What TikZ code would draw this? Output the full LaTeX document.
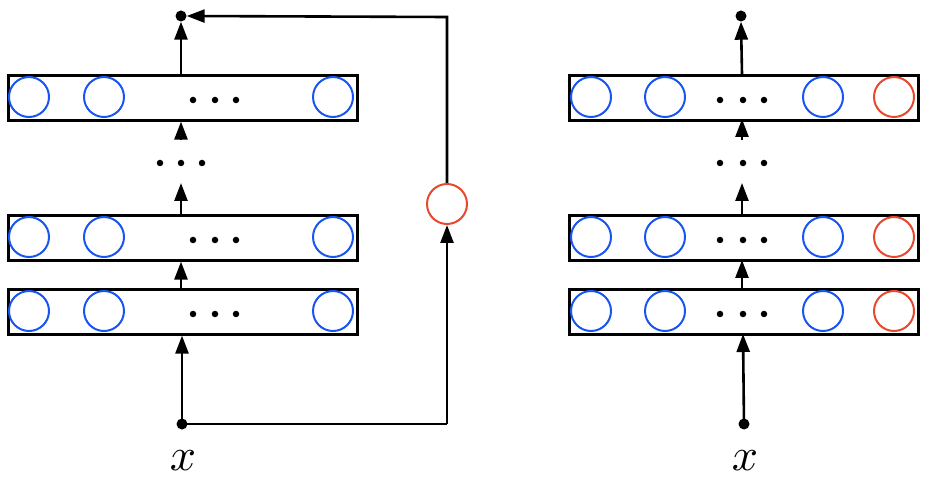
\documentclass[tikz,border=0pt]{standalone}
\usepackage{graphicx}
\usetikzlibrary{arrows.meta}
\definecolor{nblue}{RGB}{25,85,240}
\definecolor{nred}{RGB}{232,72,45}
\begin{document}
\begin{tikzpicture}[x=1pt,y=-1pt,
  layerbox/.style={draw=black,line width=2.6pt,minimum width=349pt,minimum height=45pt,inner sep=0pt,anchor=north west},
  unit/.style={circle,draw=nblue,line width=2pt,minimum size=40pt,inner sep=0pt},
  redunit/.style={circle,draw=nred,line width=2pt,minimum size=40pt,inner sep=0pt},
  smalldot/.style={circle,fill=black,minimum size=6.5pt,inner sep=0pt},
  enddot/.style={circle,fill=black,minimum size=11pt,inner sep=0pt},
  conn/.style={line width=2.6pt,-{Triangle[length=18pt,width=13pt]}},
  plain/.style={line width=2.6pt},
  lbl/.style={inner sep=0pt}
]
\useasboundingbox (0,0) rectangle (929,478);

% ---------- left panel ----------
\node[layerbox] (L3) at (7,74) {};
\node[layerbox] (L2) at (7,214) {};
\node[layerbox] (L1) at (7,288) {};
\foreach \b/\y in {L3/97,L2/237,L1/311}{
  \node[unit] (\b a) at (29,\y) {};
  \node[unit] (\b b) at (104,\y) {};
  \node[unit] (\b c) at (333,\y) {};
  \node[smalldot] (\b d1) at (193,\y+3) {};
  \node[smalldot] (\b d2) at (215,\y+3) {};
  \node[smalldot] (\b d3) at (236,\y+3) {};
}
\node[smalldot] (Lm1) at (160,163) {};
\node[smalldot] (Lm2) at (181,163) {};
\node[smalldot] (Lm3) at (202,163) {};
\coordinate (Lmtop) at (181,140);
\coordinate (Lmbot) at (181,183);
\node[enddot] (Ltop) at (181,16) {};
\node[enddot] (Lx) at (182,424) {};
\node[lbl] (Lxl) at (183,461) {\scalebox{4.6}{$x$}};
\node[redunit] (R) at (447,204) {};
\coordinate (c1) at (447,424);
\coordinate (c2) at (447,17);

\draw[conn] (Lx.center) -- (L1.south -| Lx);
\draw[conn] (L1.north -| 181,0) -- (L2.south -| 181,0);
\draw[conn] (L2.north -| 181,0) -- (Lmbot);
\draw[conn] (Lmtop) -- (L3.south -| 181,0);
\draw[conn] (L3.north -| 181,0) -- (Ltop.south);
\draw[plain] (Lx.center) -- (c1);
\draw[conn] (c1) -- (R.south);
\draw[conn,line join=miter] (R.north) -- (c2) -- (Ltop.east);

% ---------- right panel ----------
\node[layerbox] (S3) at (568,74) {};
\node[layerbox] (S2) at (568,214) {};
\node[layerbox] (S1) at (568,288) {};
\foreach \b/\y in {S3/97,S2/237,S1/311}{
  \node[unit] (\b a) at (591,\y) {};
  \node[unit] (\b b) at (665,\y) {};
  \node[unit] (\b c) at (823,\y) {};
  \node[redunit] (\b r) at (894,\y) {};
  \node[smalldot] (\b d1) at (720,\y+3) {};
  \node[smalldot] (\b d2) at (743,\y+3) {};
  \node[smalldot] (\b d3) at (764,\y+3) {};
}
\node[smalldot] (Sm1) at (720,163) {};
\node[smalldot] (Sm2) at (743,163) {};
\node[smalldot] (Sm3) at (764,163) {};
\coordinate (Smtop) at (742,140);
\coordinate (Smbot) at (742,183);
\node[enddot] (Stop) at (741,16) {};
\node[enddot] (Sx) at (744,424) {};
\node[lbl] (Sxl) at (745,461) {\scalebox{4.6}{$x$}};

\draw[conn] (Sx.center) -- (743,334);
\draw[conn] (742,288) -- (742,260);
\draw[conn] (742,214) -- (Smbot);
\draw[conn] (Smtop) -- (742,119);
\draw[conn] (742,74) -- (Stop.south);
\end{tikzpicture}
\end{document}
